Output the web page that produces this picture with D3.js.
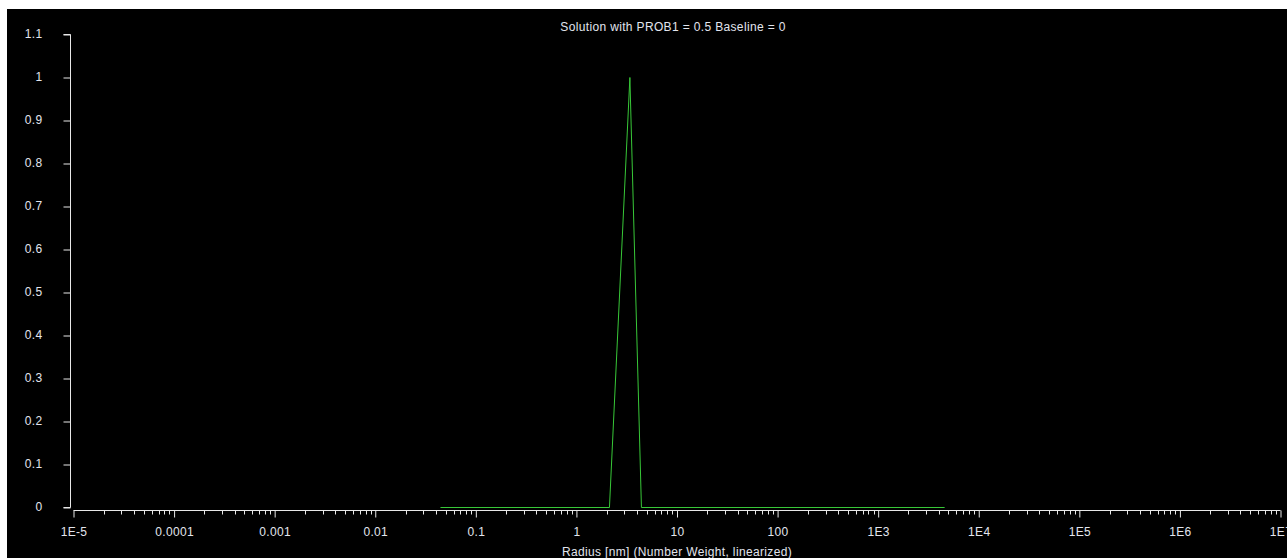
<!DOCTYPE html>
<html><head><meta charset="utf-8">
<script src="https://cdn.jsdelivr.net/npm/d3@7"></script>
<style>
html,body{margin:0;padding:0;background:#fff;overflow:hidden}
svg{display:block}
text{font-family:"Liberation Sans",Arial,sans-serif;letter-spacing:0.35px}
</style></head>
<body>
<script>
// Data
const radius = [0.0445, 2.13, 3.40, 4.43, 4580];
const weight = [0, 0, 1, 0, 0];
const xTickValues = [1e-5, 1e-4, 1e-3, 1e-2, 1e-1, 1, 10, 100, 1e3, 1e4, 1e5, 1e6, 1e7];
const xTickLabels = ["1E-5", "0.0001", "0.001", "0.01", "0.1", "1", "10", "100", "1E3", "1E4", "1E5", "1E6", "1E7"];
const yTickValues = [0, 0.1, 0.2, 0.3, 0.4, 0.5, 0.6, 0.7, 0.8, 0.9, 1, 1.1];
const yTickLabels = ["0", "0.1", "0.2", "0.3", "0.4", "0.5", "0.6", "0.7", "0.8", "0.9", "1", "1.1"];
const title = "Solution with PROB1 = 0.5 Baseline = 0";
const xTitle = "Radius [nm] (Number Weight, linearized)";

const W = 1287, H = 558;
const svg = d3.select("body").append("svg").attr("width", W).attr("height", H);
svg.append("rect").attr("x", 7).attr("y", 9).attr("width", W - 7).attr("height", H - 9).attr("fill", "#000");

const x = d3.scaleLog().domain([1e-5, 1e7]).range([73.5, 1280.5]);
const y = d3.scaleLinear().domain([0, 1.1]).range([507, 34]);

const axisColor = "#e8e8e8";
const labelColor = "#e2e5ee";
const fs = 12;

// Y axis
const yAxis = svg.append("g").attr("transform", "translate(70.5,0)")
  .call(d3.axisLeft(y).tickValues(yTickValues).tickSize(7).tickPadding(21)
    .tickFormat((d, i) => yTickLabels[i]));
yAxis.select(".domain").attr("stroke", axisColor).attr("d", `M-7,${y(1.1)+0.5}H0V${y(0)+0.5}H-7`);
yAxis.selectAll(".tick line").attr("stroke", axisColor).attr("transform", "translate(0,0.5)");
yAxis.selectAll(".tick text").attr("fill", labelColor).attr("font-size", fs);

// X axis with log minor ticks
const xg = svg.append("g").attr("transform", "translate(0,510.5)");
const minor = [];
for (let e = -5; e < 7; e++) for (let m = 2; m <= 9; m++) minor.push(m * Math.pow(10, e));
xg.append("line").attr("x1", x(1e-5)).attr("x2", x(1e7)).attr("stroke", axisColor);
xg.selectAll(".minor").data(minor).join("line").attr("class", "minor")
  .attr("x1", d => Math.round(x(d)) + 0.5).attr("x2", d => Math.round(x(d)) + 0.5)
  .attr("y1", 0).attr("y2", 4).attr("stroke", axisColor);
const xAxis = xg.append("g")
  .call(d3.axisBottom(x).tickValues(xTickValues).tickSize(7).tickPadding(10)
    .tickFormat((d, i) => xTickLabels[i]));
xAxis.select(".domain").remove();
xAxis.selectAll(".tick line").attr("stroke", axisColor);
xAxis.selectAll(".tick text").attr("fill", labelColor).attr("font-size", fs);

// Line
const pts = radius.map((r, i) => [r, weight[i]]);
svg.append("path").datum(pts)
  .attr("fill", "none").attr("stroke", "#38c838").attr("stroke-width", 1)
  .attr("d", d3.line().x(d => x(d[0])).y(d => y(d[1]) + 0.5));

// Titles
svg.append("text").attr("x", 673).attr("y", 31).attr("text-anchor", "middle")
  .attr("fill", labelColor).attr("font-size", fs).text(title);
svg.append("text").attr("x", 677).attr("y", 556).attr("text-anchor", "middle")
  .attr("fill", labelColor).attr("font-size", fs).text(xTitle);
</script>
</body></html>
